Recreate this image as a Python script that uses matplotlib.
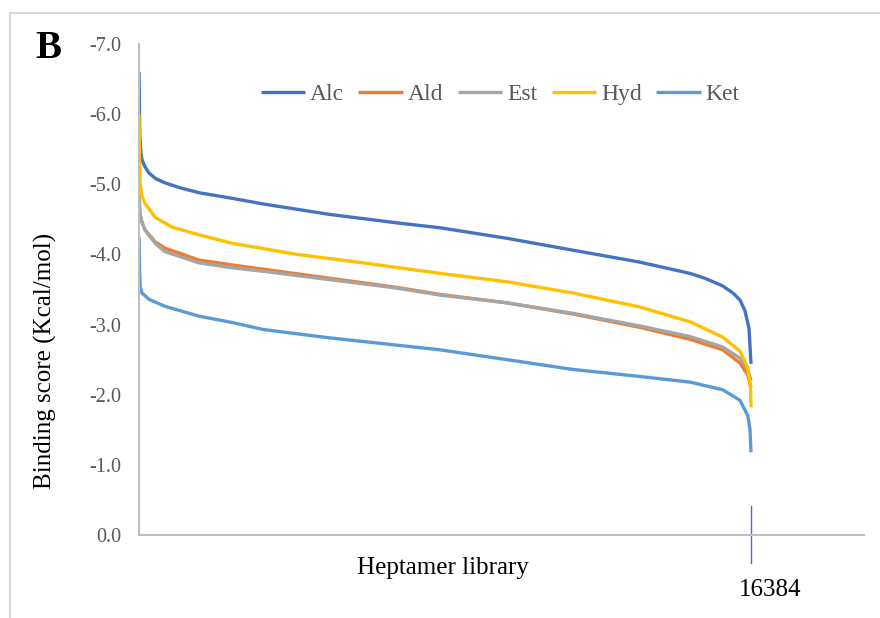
import matplotlib
matplotlib.use("Agg")
import matplotlib.pyplot as plt
from matplotlib.lines import Line2D

# ---- data ----
alc_x = [1, 20, 50, 80, 160, 268, 450, 696, 1100, 1606, 2490, 3320, 5110, 6900, 8060, 9850, 11620,
         13410, 14750, 15150, 15630, 15900, 16090, 16220, 16330, 16384]
alc_y = [-6.6, -5.7, -5.45, -5.35, -5.25, -5.16, -5.08, -5.02, -4.95, -4.88, -4.80, -4.72, -4.57,
         -4.45, -4.38, -4.23, -4.06, -3.89, -3.73, -3.66, -3.55, -3.45, -3.35, -3.20, -2.95, -2.44]

ald_x = [1, 20, 60, 160, 430, 696, 1606, 2490, 3320, 5110, 6900, 8060, 9850, 11620, 13410, 14750,
         15630, 16090, 16300, 16384]
ald_y = [-4.85, -4.6, -4.49, -4.35, -4.18, -4.09, -3.92, -3.85, -3.79, -3.66, -3.53, -3.43, -3.31,
         -3.15, -2.96, -2.79, -2.64, -2.45, -2.28, -2.10]

est_x = [1, 20, 60, 160, 430, 696, 1606, 2490, 3320, 5110, 6900, 8060, 9850, 11620, 13410, 14750,
         15630, 16090, 16300, 16384]
est_y = [-4.95, -4.6, -4.49, -4.35, -4.16, -4.04, -3.88, -3.81, -3.76, -3.64, -3.52, -3.42, -3.31,
         -3.16, -2.98, -2.83, -2.68, -2.52, -2.35, -2.20]

hyd_x = [1, 15, 30, 80, 160, 430, 880, 1606, 2490, 4230, 6000, 8060, 9850, 11620, 13410, 14750,
         15630, 16090, 16300, 16370, 16384]
hyd_y = [-6.0, -5.3, -5.0, -4.83, -4.73, -4.53, -4.39, -4.28, -4.16, -4.00, -3.88, -3.73, -3.61,
         -3.45, -3.25, -3.04, -2.82, -2.62, -2.38, -2.10, -1.82]

ket_x = [1, 15, 30, 80, 268, 696, 1606, 2490, 3320, 5110, 8060, 9850, 11620, 13410, 14750, 15630,
         16090, 16300, 16357, 16384]
ket_y = [-4.25, -3.8, -3.54, -3.45, -3.36, -3.26, -3.12, -3.03, -2.93, -2.81, -2.64, -2.50, -2.36,
         -2.26, -2.18, -2.07, -1.92, -1.70, -1.50, -1.18]

series_names = ["Alc", "Ald", "Est", "Hyd", "Ket"]
series_colors = ["#4472C4", "#ED7D31", "#A5A5A5", "#FFC000", "#5B9BD5"]
y_ticks = [-7.0, -6.0, -5.0, -4.0, -3.0, -2.0, -1.0, 0.0]
n_library = 16384

# ---- figure ----
W, H = 880, 618
fig = plt.figure(figsize=(W / 100, H / 100), dpi=100)
serif = ["Liberation Serif", "DejaVu Serif"]

ax = fig.add_axes([139 / W, 1 - 535 / H, (864 - 139) / W, (535 - 44) / H])

data = [(alc_x, alc_y), (ald_x, ald_y), (est_x, est_y), (hyd_x, hyd_y), (ket_x, ket_y)]
for (xs, ys), name, col in zip(data, series_names, series_colors):
    ax.plot(xs, ys, color=col, lw=2.4, label=name, solid_capstyle="butt", solid_joinstyle="round")

ax.set_xlim(0, n_library * 725 / 612)
ax.set_ylim(0, -7)
ax.set_yticks(y_ticks)
ax.set_yticklabels([f"{v:.1f}" for v in y_ticks], fontfamily=serif, fontsize=14.5, color="#595959")
ax.tick_params(axis="y", length=0, pad=13)
ax.set_xticks([])

for s in ["top", "right"]:
    ax.spines[s].set_visible(False)
for s in ["left", "bottom"]:
    ax.spines[s].set_color("#BFBFBF")
    ax.spines[s].set_linewidth(1.5)

# 16384 marker
ax.axvline(n_library, ymin=-0.057, ymax=0.059, clip_on=False, color="#4472C4", lw=1)
ax.annotate(str(n_library), xy=(n_library, 0), xytext=(19, -55), textcoords="offset pixels",
            ha="center", va="center", fontfamily=serif, fontsize=18, color="#000000",
            annotation_clip=False)

leg = ax.legend(loc="center", bbox_to_anchor=(0.498, 0.898), ncol=5, frameon=False,
                prop={"family": serif, "size": 17}, handlelength=1.9, handletextpad=0.2,
                columnspacing=0.6)
for t in leg.get_texts():
    t.set_color("#595959")

fig.text(443 / W, 1 - 568 / H, "Heptamer library", ha="center", va="center",
         fontfamily=serif, fontsize=18)
fig.text(45 / W, 1 - 361 / H, "Binding score (Kcal/mol)", ha="center", va="center",
         rotation=90, fontfamily=serif, fontsize=18)
fig.text(48 / W, 1 - 48 / H, "B", ha="center", va="center", fontfamily=serif,
         fontsize=28, fontweight="bold")

# outer frame (left and top edges visible)
fig.add_artist(Line2D([10 / W, 10 / W], [0, 1 - 13 / H], transform=fig.transFigure,
                      color="#D9D9D9", lw=1.5))
fig.add_artist(Line2D([10 / W, 1], [1 - 13 / H, 1 - 13 / H], transform=fig.transFigure,
                      color="#D9D9D9", lw=1.5))

fig.savefig("out.png", dpi=100)
